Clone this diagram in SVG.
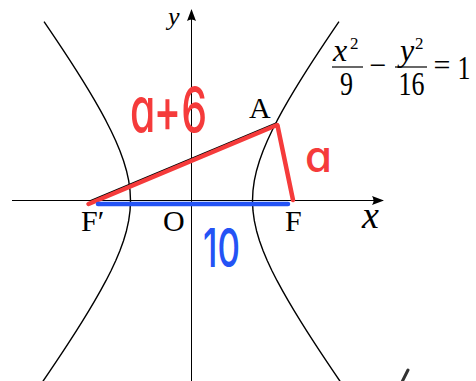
<svg xmlns="http://www.w3.org/2000/svg" width="476" height="381" viewBox="0 0 476 381">
<style>
.curve{fill:none;stroke:#000;stroke-width:1.4;stroke-linejoin:round}
.axis{fill:none;stroke:#000;stroke-width:1}
.bar{stroke:#000;stroke-width:1.2}
.lbl{font-family:"Liberation Serif",serif;fill:#000}
.it{font-style:italic}
.hand{font-family:Inter,"Noto Sans",sans-serif;font-feature-settings:"cv11" 1;font-weight:500}
.red{fill:#f53b3b}
.blue{fill:#2453f5}
.redline{stroke:#f53b3b;stroke-width:4.5;stroke-linecap:round;fill:none}
.blueline{stroke:#2453f5;stroke-width:4.5;stroke-linecap:round;fill:none}
</style>
<defs>
<marker id="arr" markerUnits="userSpaceOnUse" markerWidth="12" markerHeight="9" viewBox="0 0 12 9" refX="11" refY="4.5" orient="auto"><path d="M0,0 L12,4.5 L0,9 Q3,4.5 0,0Z" fill="#000"/></marker>
</defs>
<rect width="476" height="381" fill="#fff"/>
<g id="axes">
<line class="axis" x1="12" y1="200.5" x2="383" y2="200.5" marker-end="url(#arr)"/>
<line class="axis" x1="191.5" y1="381" x2="191.5" y2="10" marker-end="url(#arr)"/>
</g>
<g id="hyperbola">
<polyline class="curve" points="338.97,21.7 332.85,30.7 326.12,40.7 319.48,50.7 312.94,60.7 306.51,70.7 300.23,80.7 294.11,90.7 288.18,100.7 282.48,110.7 277.06,120.7 271.98,130.7 267.30,140.7 263.11,150.7 259.48,160.7 256.52,170.7 254.32,180.7 252.96,190.7 252.5,200.7 252.96,210.7 254.32,220.7 256.52,230.7 259.48,240.7 263.11,250.7 267.30,260.7 271.98,270.7 277.06,280.7 282.48,290.7 288.18,300.7 294.11,310.7 300.23,320.7 306.51,330.7 312.94,340.7 319.48,350.7 326.12,360.7 332.85,370.7 339.65,380.7 343.07,385.7"/>
<polyline class="curve" points="44.03,21.7 50.15,30.7 56.88,40.7 63.52,50.7 70.06,60.7 76.49,70.7 82.77,80.7 88.89,90.7 94.82,100.7 100.52,110.7 105.94,120.7 111.02,130.7 115.70,140.7 119.89,150.7 123.52,160.7 126.48,170.7 128.68,180.7 130.04,190.7 130.5,200.7 130.04,210.7 128.68,220.7 126.48,230.7 123.52,240.7 119.89,250.7 115.70,260.7 111.02,270.7 105.94,280.7 100.52,290.7 94.82,300.7 88.89,310.7 82.77,320.7 76.49,330.7 70.06,340.7 63.52,350.7 56.88,360.7 50.15,370.7 43.35,380.7 39.93,385.7"/>
</g>
<g id="connectors">
<line x1="90" y1="201" x2="276.5" y2="123" stroke="#000" stroke-width="1.4"/>
<line class="redline" x1="88.5" y1="204" x2="277" y2="125"/>
<line class="redline" x1="277.5" y1="125.5" x2="293" y2="200"/>
<line class="blueline" x1="98" y1="204" x2="288" y2="204"/>
</g>
<g id="labels">
<text class="lbl" x="249" y="118" font-size="30">A</text>
<text class="lbl" x="81" y="231" font-size="30">F′</text>
<text class="lbl" x="163" y="231" font-size="30">O</text>
<text class="lbl" x="285" y="231" font-size="30">F</text>
<text class="lbl it" x="362" y="228" font-size="38">x</text>
<text class="lbl it" x="168" y="25" font-size="26">y</text>
</g>
<g id="equation">
<text class="lbl it" x="333" y="61" font-size="32">x</text>
<text class="lbl" x="350" y="49" font-size="17">2</text>
<line class="bar" x1="332" y1="67" x2="363" y2="67"/>
<text class="lbl" transform="translate(346.5,95) scale(1,1.3)" font-size="26" text-anchor="middle">9</text>
<text class="lbl" x="378" y="75" font-size="30" text-anchor="middle">−</text>
<text class="lbl it" x="400" y="61" font-size="32">y</text>
<text class="lbl" x="415" y="49" font-size="17">2</text>
<line class="bar" x1="395" y1="67" x2="427" y2="67"/>
<text class="lbl" transform="translate(411.5,95) scale(1,1.3)" font-size="26" text-anchor="middle">16</text>
<text class="lbl" x="442" y="75" font-size="30" text-anchor="middle">=</text>
<text class="lbl" transform="translate(464,79) scale(1,1.3)" font-size="26" text-anchor="middle">1</text>
</g>
<g id="annotations">
<text class="hand red" transform="translate(130,132) scale(1,1.25)" font-size="50" textLength="77" lengthAdjust="spacingAndGlyphs">a+6</text>
<text class="hand red" x="305" y="172" font-size="44" textLength="27" lengthAdjust="spacingAndGlyphs">a</text>
<text class="hand blue" x="203" y="267" font-size="54" textLength="37" lengthAdjust="spacingAndGlyphs">10</text>
</g>
<line x1="408" y1="370" x2="402.5" y2="381" stroke="#333" stroke-width="3" stroke-linecap="round"/>
</svg>
